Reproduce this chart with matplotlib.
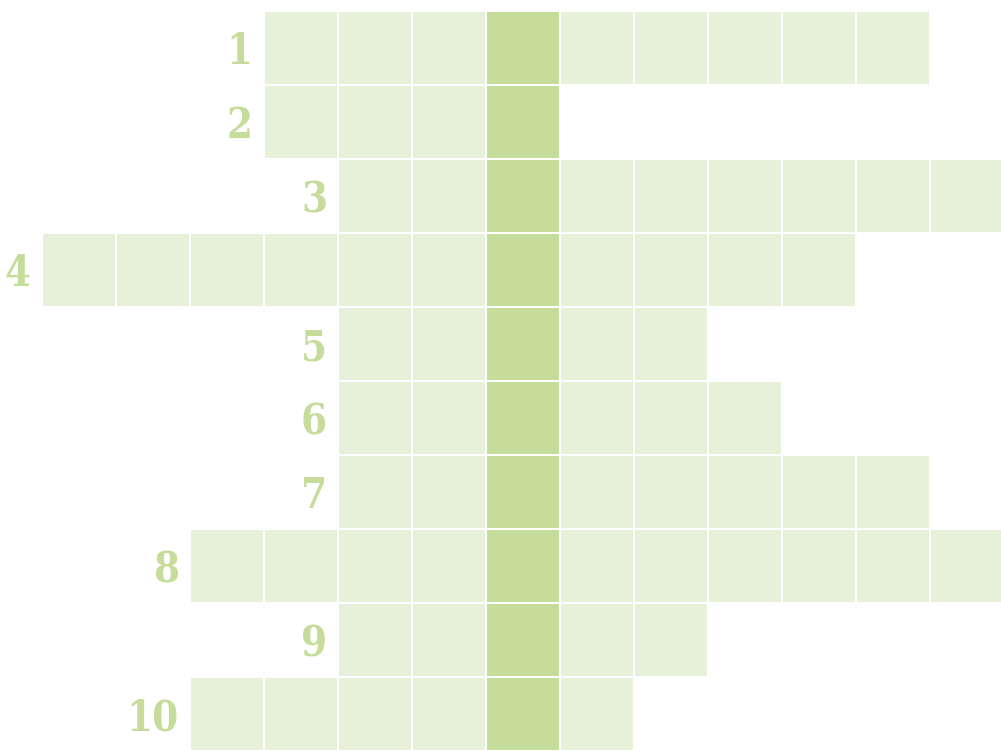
import matplotlib
matplotlib.use("Agg")
import matplotlib.pyplot as plt
from matplotlib import font_manager

# Data
row_labels = ["1", "2", "3", "4", "5", "6", "7", "8", "9", "10"]
row_starts = [3, 3, 4, 0, 4, 4, 4, 2, 4, 2]
row_lengths = [9, 4, 9, 11, 5, 6, 8, 11, 5, 6]
key_column = 6

light = "#e7f0d9"
dark = "#c5dc9b"
label_color = "#c5dc9b"

names = {f.name for f in font_manager.fontManager.ttflist}
cond = [f for f in font_manager.fontManager.ttflist
        if f.name == "DejaVu Serif" and "ondensed" in str(f.stretch) and f.weight in (700, "bold")]
fprops = dict(family="DejaVu Serif", fontweight="bold")
if cond:
    fprops["fontstretch"] = "condensed"

fig = plt.figure(figsize=(10.01, 7.51), dpi=100)
ax = fig.add_axes([0, 0, 1, 1])
ax.set_xlim(-42 / 74, (1001 - 42) / 74)
ax.set_ylim(10, -11 / 74)
ax.axis("off")

pad = 1 / 74
for i, (lab, s, n) in enumerate(zip(row_labels, row_starts, row_lengths)):
    cols = list(range(s, s + n))
    colors = [dark if c == key_column else light for c in cols]
    ax.barh([i + pad] * n, [1 - 2 * pad] * n, left=[c + pad for c in cols],
            height=1 - 2 * pad, align="edge", color=colors, linewidth=0)
    ax.text(s - 11 / 74, i + 0.5, lab, ha="right", va="center_baseline",
            fontsize=30, color=label_color, **fprops)

fig.savefig("out.png", dpi=100)
